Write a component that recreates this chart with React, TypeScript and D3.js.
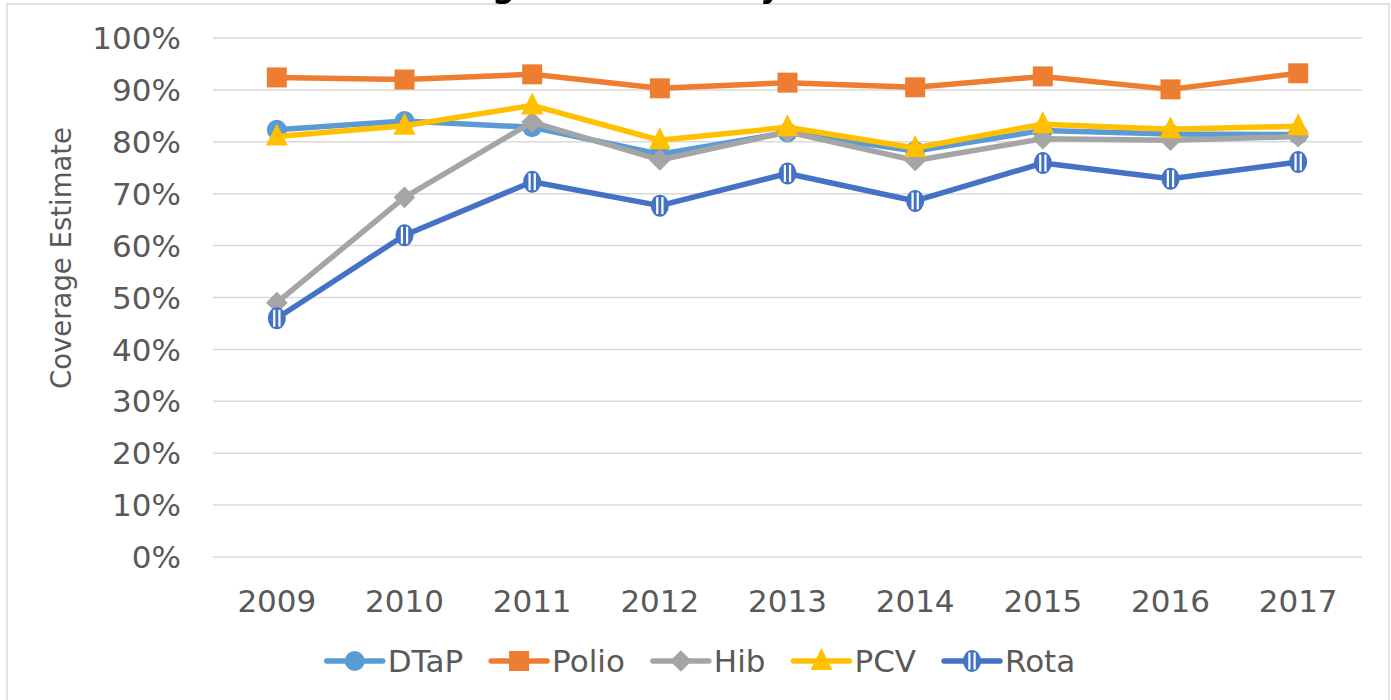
import React, { useEffect, useRef } from "react";
import * as d3 from "d3";

// chart data
const years = ["2009", "2010", "2011", "2012", "2013", "2014", "2015", "2016", "2017"];
const dtap = [82.3, 84.0, 82.8, 77.6, 81.8, 78.2, 82.2, 81.5, 81.4];
const polio = [92.4, 92.0, 93.0, 90.3, 91.4, 90.5, 92.6, 90.1, 93.2];
const hib = [49.0, 69.3, 83.8, 76.5, 81.9, 76.4, 80.6, 80.3, 81.0];
const pcv = [81.0, 83.1, 87.0, 80.3, 82.8, 78.8, 83.4, 82.4, 83.0];
const rota = [46.0, 62.0, 72.3, 67.7, 73.9, 68.6, 75.9, 72.9, 76.1];
const yTicks = [0, 10, 20, 30, 40, 50, 60, 70, 80, 90, 100];

const seriesNames = ["DTaP", "Polio", "Hib", "PCV", "Rota"];
const seriesValues = [dtap, polio, hib, pcv, rota];
const seriesColors = ["#5B9BD5", "#ED7D31", "#A5A5A5", "#FFC000", "#4472C4"];

const FONT = "'DejaVu Sans', Verdana, sans-serif";

function drawMarker(g: any, name: string, color: string) {
  if (name === "DTaP") {
    g.append("circle").attr("r", 10).attr("fill", color);
  } else if (name === "Polio") {
    g.append("rect").attr("x", -10).attr("y", -10).attr("width", 20).attr("height", 20).attr("fill", color);
  } else if (name === "Hib") {
    g.append("path").attr("d", d3.symbol(d3.symbolDiamond2, 300)()).attr("fill", color);
  } else if (name === "PCV") {
    g.append("path").attr("d", "M0,-13L11,9L-11,9Z").attr("fill", color);
  } else {
    const rx = 9, ry = 11;
    g.append("ellipse").attr("rx", rx).attr("ry", ry).attr("fill", color);
    [-2.6, 2.6].forEach((dx) => {
      const h = (ry - 2) * Math.sqrt(1 - (dx / (rx - 1.5)) ** 2);
      g.append("line")
        .attr("x1", dx).attr("x2", dx)
        .attr("y1", -h).attr("y2", h)
        .attr("stroke", "#fff").attr("stroke-width", 2.2);
    });
  }
}

function App() {
  const svgRef = useRef<SVGSVGElement>(null);
  const width = 1391;
  const height = 700;

  useEffect(() => {
    document.body.style.margin = "0";
    const svg = d3.select(svgRef.current);
    svg.selectAll("*").remove();

    // outer frame
    svg.append("rect")
      .attr("x", 7).attr("y", 4)
      .attr("width", 1382).attr("height", 720)
      .attr("fill", "#fff")
      .attr("stroke", "#D9D9D9").attr("stroke-width", 1.5);

    // title sits above the frame, only its descenders show (as in the reference)
    const title = svg.append("text")
      .attr("y", -3)
      .attr("font-family", FONT)
      .attr("font-size", 32)
      .attr("font-weight", "bold")
      .attr("fill", "#000")
      .text("Vaccine Coverage Estimates by Year");
    const tnode: any = title.node();
    const gPos = tnode.getSubStringLength(0, 14);
    title.attr("x", 492 - gPos);

    const x = d3.scaleBand().domain(years).range([213, 1362]);
    const y = d3.scaleLinear().domain([0, 100]).range([557, 38]);

    // gridlines
    svg.append("g").selectAll("line")
      .data(yTicks).enter().append("line")
      .attr("x1", 213).attr("x2", 1362)
      .attr("y1", (d) => y(d)).attr("y2", (d) => y(d))
      .attr("stroke", "#D9D9D9").attr("stroke-width", 1.5);

    // y tick labels
    svg.append("g").selectAll("text")
      .data(yTicks).enter().append("text")
      .attr("x", 181).attr("y", (d) => y(d))
      .attr("dy", "0.36em")
      .attr("text-anchor", "end")
      .attr("font-family", FONT).attr("font-size", 31)
      .attr("fill", "#595959")
      .text((d) => d + "%");

    // x tick labels
    svg.append("g").selectAll("text")
      .data(years).enter().append("text")
      .attr("x", (d) => x(d)! + x.bandwidth() / 2).attr("y", 612)
      .attr("text-anchor", "middle")
      .attr("font-family", FONT).attr("font-size", 31)
      .attr("fill", "#595959")
      .text((d) => d);

    // axis title
    svg.append("text")
      .attr("transform", "translate(71,258) rotate(-90)")
      .attr("text-anchor", "middle")
      .attr("font-family", FONT).attr("font-size", 27.5)
      .attr("fill", "#595959")
      .text("Coverage Estimate");

    const line = d3.line<number>()
      .x((d, i) => x(years[i])! + x.bandwidth() / 2)
      .y((d) => y(d));

    seriesNames.forEach((name, si) => {
      const vals = seriesValues[si];
      const color = seriesColors[si];
      const g = svg.append("g");
      g.append("path").datum(vals)
        .attr("d", line)
        .attr("fill", "none")
        .attr("stroke", color)
        .attr("stroke-width", 5.5)
        .attr("stroke-linejoin", "round");
      vals.forEach((v, i) => {
        const m = g.append("g")
          .attr("transform", `translate(${x(years[i])! + x.bandwidth() / 2},${y(v)})`);
        drawMarker(m, name, color);
      });
    });

    // legend
    const legend = svg.append("g");
    const items: any[] = [];
    seriesNames.forEach((name, si) => {
      const item = legend.append("g");
      item.append("line")
        .attr("x1", 0).attr("x2", 56)
        .attr("stroke", seriesColors[si]).attr("stroke-width", 5.5)
        .attr("stroke-linecap", "round");
      const m = item.append("g").attr("transform", "translate(28,0)");
      drawMarker(m, name, seriesColors[si]);
      const t = item.append("text")
        .attr("x", 61).attr("dy", "0.36em")
        .attr("font-family", FONT).attr("font-size", 31)
        .attr("fill", "#595959")
        .text(name);
      const w = 61 + (t.node() as any).getComputedTextLength();
      items.push({ item, w });
    });
    const gap = 28;
    const total = d3.sum(items, (d) => d.w) + gap * (items.length - 1);
    let cx = 701 - total / 2;
    items.forEach((d) => {
      d.item.attr("transform", `translate(${cx},661)`);
      cx += d.w + gap;
    });
  }, []);

  return <svg ref={svgRef} width={width} height={height} style={{ display: "block" }} />;
}

export default App;
